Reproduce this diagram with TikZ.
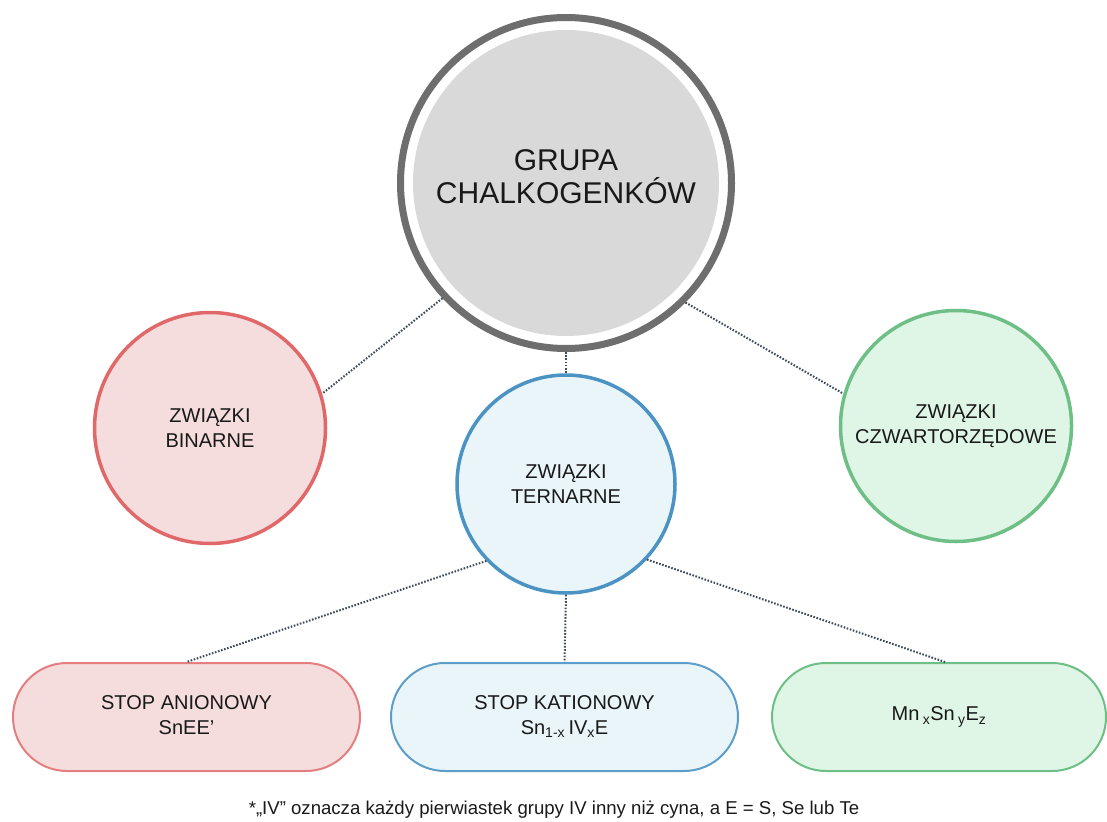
\documentclass[tikz,border=0pt]{standalone}
\usepackage{fontspec}
\setmainfont{Liberation Sans}
\definecolor{ringgray}{HTML}{6E6E6E}
\definecolor{mainfill}{HTML}{D9D9D9}
\definecolor{redstroke}{HTML}{E06868}
\definecolor{redfill}{HTML}{F5DCDD}
\definecolor{bluestroke}{HTML}{4A93C3}
\definecolor{bluefill}{HTML}{E9F5F8}
\definecolor{greenstroke}{HTML}{6DBF85}
\definecolor{greenfill}{HTML}{DFF5E5}
\definecolor{linkcol}{HTML}{3E4A57}
\tikzset{
  bigtext/.style={font=\fontsize{30}{33}\selectfont, align=center, text=black!90},
  smalltext/.style={font=\fontsize{20}{25}\selectfont, align=center, text=black!90},
  catcircle/.style={circle, line width=3.5pt, inner sep=0pt, smalltext},
  stadium/.style={rectangle, rounded corners=54pt, line width=2pt, minimum height=108pt, inner sep=0pt, smalltext},
  link/.style={draw=linkcol, line width=2pt, dash pattern=on 1.6pt off 1.6pt},
}
\begin{document}
\begin{tikzpicture}[x=1pt,y=-1pt]
\useasboundingbox (0,0) rectangle (1107,821);
% main node
\node[circle, minimum size=331pt, inner sep=0pt, draw=ringgray, line width=7pt, fill=white,
      path picture={\fill[mainfill] (path picture bounding box.center) circle (153pt);}]
      (main) at (566,183) {};
\node[bigtext] (maintext) at (566,177) {GRUPA\\CHALKOGENKÓW};
% categories
\node[catcircle, minimum size=231pt, draw=redstroke, fill=redfill] (bin) at (210,428) {ZWIĄZKI\\BINARNE};
\node[catcircle, minimum size=218pt, draw=bluestroke, fill=bluefill] (ter) at (566,484) {ZWIĄZKI\\TERNARNE};
\node[catcircle, minimum size=231pt, draw=greenstroke, fill=greenfill] (quat) at (956,426) {ZWIĄZKI\\CZWARTORZĘDOWE};
% stadiums
\node[stadium, minimum width=347pt, draw=redstroke!85, fill=redfill] (sa) at (186.5,717) {\raisebox{4pt}{\begin{tabular}{@{}c@{}}STOP ANIONOWY\\SnEE'\end{tabular}}};
\node[stadium, minimum width=347pt, draw=bluestroke!90, fill=bluefill] (sk) at (564.5,717) {\raisebox{4pt}{\begin{tabular}{@{}c@{}}STOP KATIONOWY\\Sn\textsubscript{1-x}\,IV\textsubscript{x}E\end{tabular}}};
\node[stadium, minimum width=334pt, draw=greenstroke, fill=greenfill] (mn) at (939,717) {Mn\,\textsubscript{x}Sn\,\textsubscript{y}E\textsubscript{z}};
% connectors
\draw[link] (main.-137) -- (bin.17);
\draw[link] (main.-90) -- (ter.90);
\draw[link] (main.-45) -- (quat.164);
\draw[link] (ter.224) -- (sa.north);
\draw[link] (ter.-90) -- (sk.north);
\draw[link] (ter.-43) -- ([xshift=6pt]mn.north);
% footnote
\node[font=\fontsize{18.6}{20}\selectfont, text=black!90] (note) at (554,810) {*„IV” oznacza każdy pierwiastek grupy IV inny niż cyna, a E = S, Se lub Te};
\end{tikzpicture}
\end{document}
